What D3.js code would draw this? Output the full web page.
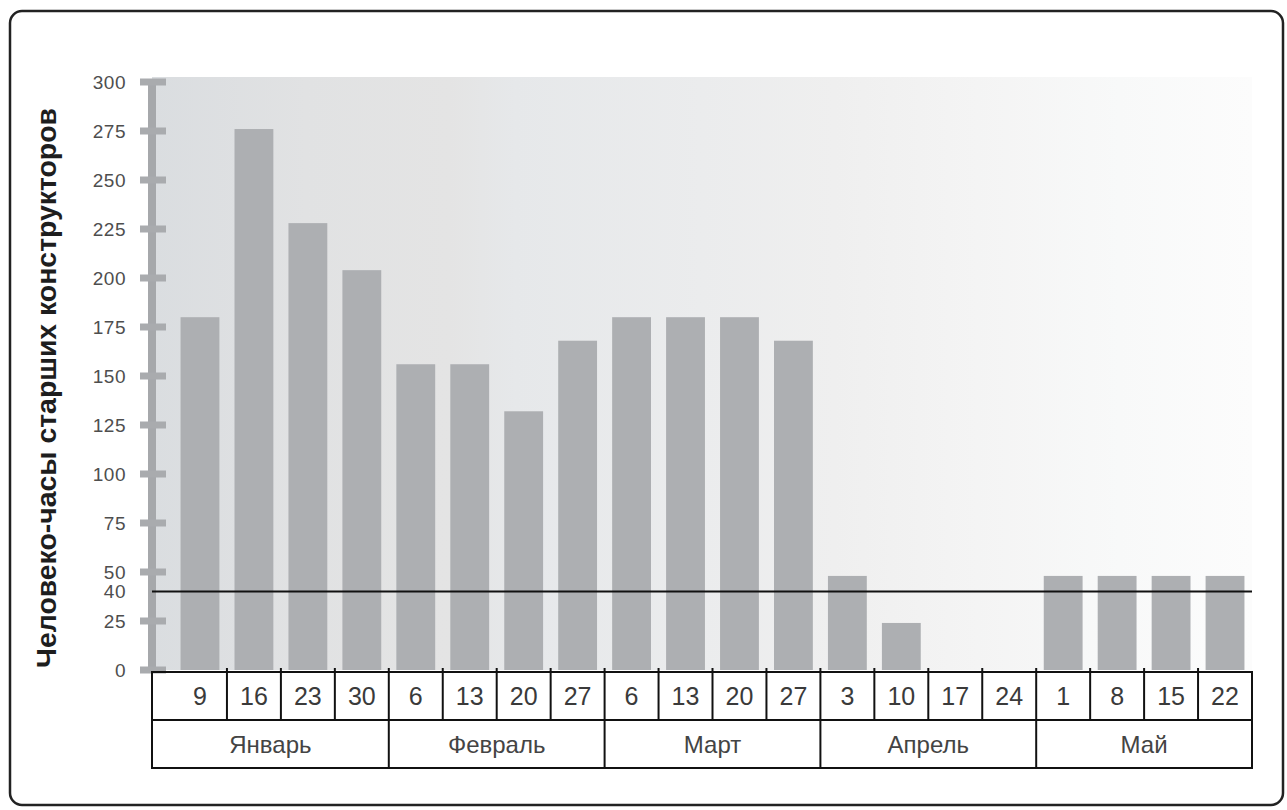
<!DOCTYPE html>
<html>
<head>
<meta charset="utf-8">
<script src="https://cdn.jsdelivr.net/npm/d3@7"></script>
<style>
  html, body { margin: 0; padding: 0; background: #ffffff; }
  svg { display: block; }
</style>
</head>
<body>
<svg id="chart" width="1287" height="810"></svg>
<script>
// ---- data ----
const weekLabels = ["9","16","23","30","6","13","20","27","6","13","20","27","3","10","17","24","1","8","15","22"];
const months = ["Январь","Февраль","Март","Апрель","Май"];
const monthWeeks = [4, 4, 4, 4, 4];
const hours = [180, 276, 228, 204, 156, 156, 132, 168, 180, 180, 180, 168, 48, 24, 0, 0, 48, 48, 48, 48];
const yTicks = [0, 25, 40, 50, 75, 100, 125, 150, 175, 200, 225, 250, 275, 300];
const yTickMarks = [0, 25, 50, 75, 100, 125, 150, 175, 200, 225, 250, 275, 300];
const limitValue = 40;
const yTitle = "Человеко-часы старших конструкторов";

// ---- layout ----
const svg = d3.select("#chart");
const axisX = 152;
const plotRight = 1252;
const y0 = 670, yTop = 82;
const tableTop = 672, rowH = 48;

const idx = d3.range(weekLabels.length);
const x = d3.scaleBand().domain(idx).range([173, plotRight]).paddingInner(0).paddingOuter(0);
const y = d3.scaleLinear().domain([0, 300]).range([y0, yTop]);
const bw = x.bandwidth();
const barW = bw * 0.72;

// frame
svg.append("rect")
  .attr("x", 10).attr("y", 11).attr("width", 1273).attr("height", 794)
  .attr("rx", 12).attr("ry", 12)
  .attr("fill", "#ffffff").attr("stroke", "#222222").attr("stroke-width", 2.5);

// background gradient
const defs = svg.append("defs");
const grad = defs.append("linearGradient").attr("id", "bg").attr("x1", "0").attr("x2", "1").attr("y1", "0").attr("y2", "0");
[
  [0, "#dadde0"], [0.14, "#e1e2e3"], [0.27, "#e4e4e4"], [0.33, "#e6e8ea"],
  [0.5, "#ebeced"], [0.62, "#efefef"], [0.75, "#f4f4f4"], [0.88, "#f8f9f9"], [1, "#fcfcfc"]
].forEach(s => grad.append("stop").attr("offset", s[0]).attr("stop-color", s[1]));

svg.append("rect")
  .attr("x", axisX).attr("y", y(300) - 5)
  .attr("width", plotRight - axisX).attr("height", y(0) - y(300) + 5)
  .attr("fill", "url(#bg)");

// bars
svg.append("g").selectAll("rect").data(hours).join("rect")
  .attr("x", (d, i) => x(i) + (bw - barW) / 2)
  .attr("y", d => y(d))
  .attr("width", barW)
  .attr("height", d => y(0) - y(d))
  .attr("fill", "#adafb2");

// axis bar
svg.append("line")
  .attr("x1", axisX).attr("x2", axisX)
  .attr("y1", y(300) - 3).attr("y2", y(0))
  .attr("stroke", "#a6a8ab").attr("stroke-width", 8);

// tick marks
svg.append("g").selectAll("line").data(yTickMarks).join("line")
  .attr("x1", axisX - 12).attr("x2", axisX + 14)
  .attr("y1", d => y(d)).attr("y2", d => y(d))
  .attr("stroke", "#a9abae").attr("stroke-width", 7);

// tick labels via d3 axis
const yAxis = d3.axisLeft(y).tickValues(yTicks).tickSize(0).tickPadding(26).tickFormat(d3.format("d"));
const gAxis = svg.append("g").attr("transform", `translate(${axisX},0)`).call(yAxis);
gAxis.select(".domain").remove();
gAxis.selectAll("text")
  .attr("font-family", "'Liberation Sans', Arial, sans-serif")
  .attr("font-size", 19)
  .attr("letter-spacing", 0.5)
  .attr("fill", "#4e4e4e");

// limit line
svg.append("line")
  .attr("x1", axisX).attr("x2", plotRight)
  .attr("y1", y(limitValue)).attr("y2", y(limitValue))
  .attr("stroke", "#111111").attr("stroke-width", 2);

// y title
svg.append("text")
  .attr("transform", `translate(56, ${(y(0) + y(300)) / 2 + 12}) rotate(-90)`)
  .attr("text-anchor", "middle")
  .attr("font-family", "'Liberation Sans', Arial, sans-serif")
  .attr("font-weight", "bold")
  .attr("font-size", 27)
  .attr("textLength", 560)
  .attr("lengthAdjust", "spacingAndGlyphs")
  .attr("fill", "#1e1e1e")
  .text(yTitle);

// ---- table ----
const tbl = svg.append("g");
const lineColor = "#111111";
[tableTop, tableTop + rowH, tableTop + 2 * rowH].forEach(yy => {
  tbl.append("line").attr("x1", axisX - 1).attr("x2", plotRight + 1)
    .attr("y1", yy).attr("y2", yy).attr("stroke", lineColor).attr("stroke-width", 2);
});
[axisX, plotRight].forEach(xx => {
  tbl.append("line").attr("x1", xx).attr("x2", xx)
    .attr("y1", tableTop).attr("y2", tableTop + 2 * rowH)
    .attr("stroke", lineColor).attr("stroke-width", 2);
});
tbl.append("g").selectAll("line").data(idx.slice(1)).join("line")
  .attr("x1", i => x(i)).attr("x2", i => x(i))
  .attr("y1", tableTop - 4).attr("y2", tableTop + rowH)
  .attr("stroke", lineColor).attr("stroke-width", 2);
const monthStarts = monthWeeks.map((n, k) => d3.sum(monthWeeks.slice(0, k)));
tbl.append("g").selectAll("line").data(monthStarts.slice(1)).join("line")
  .attr("x1", s => x(s)).attr("x2", s => x(s))
  .attr("y1", tableTop + rowH).attr("y2", tableTop + 2 * rowH)
  .attr("stroke", lineColor).attr("stroke-width", 2);

tbl.append("g").selectAll("text").data(weekLabels).join("text")
  .attr("x", (d, i) => x(i) + bw / 2)
  .attr("y", tableTop + rowH / 2)
  .attr("dy", "0.36em")
  .attr("text-anchor", "middle")
  .attr("font-family", "'Liberation Sans', Arial, sans-serif")
  .attr("font-size", 25)
  .attr("fill", "#3a3a3a")
  .text(d => d);

tbl.append("g").selectAll("text").data(months).join("text")
  .attr("x", (d, k) => {
    const s = monthStarts[k], e = s + monthWeeks[k];
    const left = k === 0 ? axisX : x(s);
    const right = e >= idx.length ? plotRight : x(e);
    return (left + right) / 2;
  })
  .attr("y", tableTop + rowH * 1.5)
  .attr("dy", "0.36em")
  .attr("text-anchor", "middle")
  .attr("font-family", "'Liberation Sans', Arial, sans-serif")
  .attr("font-size", 24)
  .attr("fill", "#444444")
  .text(d => d);
</script>
</body>
</html>
